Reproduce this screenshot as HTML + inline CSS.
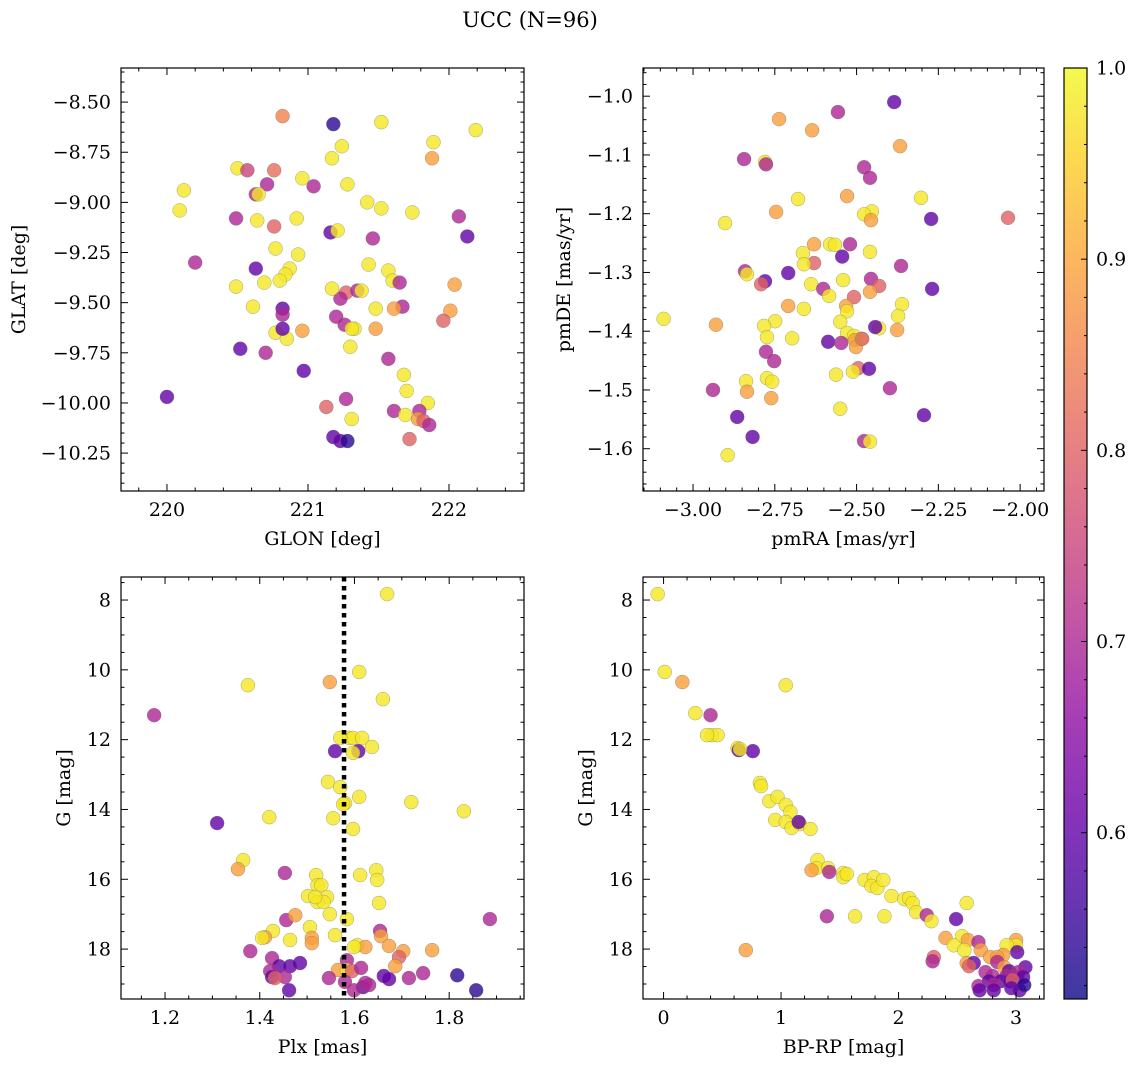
<!DOCTYPE html>
<html><head><meta charset="utf-8"><style>
html,body{margin:0;padding:0;background:#fff;}
svg{display:block;font-family:"DejaVu Serif","Liberation Serif",serif;}
</style></head><body>
<svg id="chart" width="1136" height="1067" viewBox="0 0 1136 1067">
<defs>
<linearGradient id="plasma" x1="0" y1="1" x2="0" y2="0">
<stop offset="0" stop-color="#0d0887"/><stop offset="0.1" stop-color="#41049d"/><stop offset="0.2" stop-color="#6a00a8"/><stop offset="0.3" stop-color="#8f0da4"/><stop offset="0.4" stop-color="#b12a90"/><stop offset="0.5" stop-color="#cc4778"/><stop offset="0.6" stop-color="#e16462"/><stop offset="0.7" stop-color="#f2844b"/><stop offset="0.8" stop-color="#fca636"/><stop offset="0.9" stop-color="#fcce25"/><stop offset="1" stop-color="#f0f921"/>
</linearGradient>
</defs>
<text x="530" y="27" text-anchor="middle" font-size="21">UCC (N=96)</text>
</svg>
<script>
// colour scale
const P_MIN = 0.513, P_MAX = 1.0;
const Y=0.98,O=0.89,Pk=0.80,M=0.70,V=0.60,B=0.54;
// Panel 1: GLON / GLAT
const glon = [220.82,221.18,221.52,222.19,221.89,221.88,221.24,220.50,220.57,220.76,221.17,220.96,220.12,220.71,221.04,221.28,220.09,220.63,220.65,221.42,221.52,221.74,222.07,220.49,220.92,220.64,220.76,221.16,221.21,221.46,222.13,220.77,220.93,220.20,220.63,220.87,220.84,221.43,221.57,221.60,220.80,220.69,221.65,222.04,220.49,221.27,221.23,221.35,221.17,221.38,220.61,221.67,221.61,221.48,222.01,221.96,220.82,221.20,221.26,220.82,221.33,221.31,221.48,220.77,220.96,220.85,220.52,220.82,221.30,220.70,221.57,220.97,221.68,221.70,220.00,221.27,221.13,221.85,221.61,221.31,221.79,221.69,221.78,221.82,221.86,221.18,221.23,221.28,221.72];
const glat = [-8.57,-8.61,-8.60,-8.64,-8.70,-8.78,-8.72,-8.83,-8.84,-8.84,-8.78,-8.88,-8.94,-8.91,-8.92,-8.91,-9.04,-8.96,-8.96,-9.00,-9.03,-9.05,-9.07,-9.08,-9.08,-9.09,-9.12,-9.15,-9.14,-9.18,-9.17,-9.23,-9.26,-9.30,-9.33,-9.33,-9.36,-9.31,-9.34,-9.39,-9.39,-9.40,-9.40,-9.41,-9.42,-9.45,-9.48,-9.44,-9.43,-9.44,-9.52,-9.52,-9.53,-9.53,-9.54,-9.59,-9.53,-9.57,-9.61,-9.56,-9.63,-9.63,-9.63,-9.65,-9.64,-9.68,-9.73,-9.63,-9.72,-9.75,-9.78,-9.84,-9.86,-9.94,-9.97,-9.98,-10.02,-10.00,-10.04,-10.08,-10.04,-10.06,-10.08,-10.09,-10.11,-10.17,-10.19,-10.19,-10.18];
const prob1 = [0.85,B,Y,Y,Y,O,Y,Y,0.75,0.82,Y,Y,Y,M,M,Y,Y,M,Y,Y,Y,Y,M,M,Y,Y,Pk,V,Y,M,V,Y,Y,M,V,Y,Y,Y,Y,Y,Y,Y,M,O,Y,Pk,M,M,Y,Y,Y,M,O,Y,O,Pk,V,M,M,M,Y,Y,O,Y,O,Y,V,V,Y,M,M,V,Y,Y,V,M,Pk,Y,M,Y,M,Y,O,Pk,M,V,V,B,Pk];
// Panel 2: pmRA / pmDE
const pmra = [-2.385,-2.557,-2.737,-2.636,-2.367,-2.844,-2.780,-2.777,-2.477,-2.459,-2.529,-2.303,-2.453,-2.477,-2.746,-2.679,-2.272,-2.037,-2.902,-2.456,-2.581,-2.566,-2.520,-2.630,-2.664,-2.459,-2.544,-2.630,-2.661,-2.364,-2.841,-2.835,-2.709,-2.541,-2.456,-2.780,-2.431,-2.639,-2.269,-2.602,-2.459,-2.792,-2.584,-2.508,-2.361,-2.532,-2.709,-2.661,-2.529,-3.090,-2.930,-2.749,-2.550,-2.373,-2.431,-2.443,-2.376,-2.783,-2.529,-2.697,-2.774,-2.508,-2.505,-2.502,-2.587,-2.547,-2.486,-2.777,-2.752,-2.483,-2.495,-2.462,-2.511,-2.563,-2.774,-2.758,-2.838,-2.939,-2.398,-2.835,-2.761,-2.550,-2.865,-2.294,-2.477,-2.459,-2.818,-2.894];
const pmde = [-1.010,-1.027,-1.039,-1.058,-1.085,-1.107,-1.112,-1.116,-1.121,-1.139,-1.170,-1.173,-1.196,-1.201,-1.197,-1.175,-1.209,-1.207,-1.216,-1.211,-1.252,-1.253,-1.252,-1.252,-1.267,-1.265,-1.273,-1.284,-1.286,-1.289,-1.298,-1.303,-1.301,-1.313,-1.311,-1.315,-1.323,-1.320,-1.328,-1.328,-1.333,-1.320,-1.340,-1.342,-1.354,-1.357,-1.357,-1.362,-1.366,-1.379,-1.389,-1.383,-1.384,-1.374,-1.395,-1.393,-1.398,-1.391,-1.403,-1.412,-1.410,-1.408,-1.415,-1.427,-1.418,-1.420,-1.413,-1.435,-1.451,-1.413,-1.463,-1.464,-1.469,-1.474,-1.480,-1.486,-1.485,-1.500,-1.497,-1.503,-1.514,-1.532,-1.546,-1.543,-1.587,-1.588,-1.580,-1.611];
const prob2 = [V,M,O,O,O,M,Y,M,M,M,O,Y,Y,Y,O,Y,V,Pk,Y,O,Y,Y,M,O,Y,Y,V,Pk,Y,M,M,Y,V,Y,M,V,Pk,Y,V,M,O,Pk,Y,Pk,Y,O,O,Y,Y,Y,O,Y,Y,Y,Y,V,O,Y,Y,Y,Y,Y,O,O,V,M,Y,M,M,Pk,Pk,V,Y,Y,Y,Y,Y,M,M,O,O,Y,V,V,M,Y,V,Y];
// Panel 3: Plx / G
const plx = [1.669,1.610,1.548,1.375,1.660,1.177,1.589,1.597,1.616,1.570,1.559,1.608,1.637,1.597,1.544,1.570,1.610,1.580,1.576,1.720,1.310,1.420,1.555,1.831,1.597,1.365,1.354,1.453,1.519,1.646,1.612,1.648,1.522,1.530,1.502,1.542,1.522,1.535,1.517,1.652,1.886,1.456,1.584,1.475,1.548,1.506,1.654,1.428,1.411,1.559,1.656,1.510,1.464,1.405,1.510,1.606,1.623,1.673,1.703,1.764,1.380,1.599,1.694,1.426,1.584,1.485,1.441,1.422,1.565,1.584,1.595,1.614,1.464,1.686,1.745,1.426,1.453,1.432,1.546,1.662,1.673,1.817,1.715,1.580,1.618,1.631,1.599,1.462,1.857,1.623];
const gmag3 = [7.83,10.06,10.35,10.44,10.84,11.30,11.95,11.95,11.95,11.95,12.33,12.33,12.21,12.38,13.21,13.36,13.64,13.82,13.85,13.79,14.39,14.22,14.25,14.05,14.56,15.45,15.71,15.82,15.88,15.74,15.88,16.02,16.17,16.17,16.48,16.51,16.65,16.65,16.51,16.68,17.14,17.17,17.14,17.03,17.00,17.37,17.48,17.48,17.66,17.60,17.63,17.68,17.74,17.68,17.83,17.89,17.94,17.91,18.06,18.03,18.06,17.94,18.23,18.26,18.32,18.40,18.49,18.63,18.60,18.60,18.63,18.54,18.49,18.49,18.69,18.80,18.80,18.83,18.83,18.77,18.86,18.75,18.83,18.94,19.09,19.03,19.18,19.18,19.18,18.97];
const prob3 = [Y,Y,O,Y,Y,M,Y,Y,Y,Y,V,V,Y,Y,Y,Y,Y,Y,Y,Y,V,Y,Y,Y,Y,Y,O,M,Y,Y,Y,Y,Y,Y,Y,Y,Y,Y,Y,Y,M,M,Y,O,Y,Y,M,Y,O,Y,O,O,Y,Y,O,Y,O,O,O,O,M,Y,Pk,M,M,V,V,M,O,Y,Pk,M,V,O,M,V,M,Pk,M,V,V,B,M,M,V,M,M,V,B,M];
// Panel 4: BP-RP / G
const bprp = [-0.05,0.01,0.16,1.04,0.27,0.40,0.41,0.46,0.37,0.63,0.64,0.76,0.65,0.82,0.83,0.90,0.97,1.04,1.08,0.95,1.04,1.16,1.09,1.15,1.25,1.31,1.30,1.40,1.26,1.41,1.53,1.53,1.56,1.71,1.79,1.77,1.82,1.87,1.94,2.05,2.09,2.12,2.58,1.63,1.39,1.88,2.15,2.24,2.28,2.49,2.40,2.54,2.59,2.47,2.68,2.70,2.56,3.00,3.00,2.92,3.01,2.89,2.78,2.84,2.30,2.29,2.58,2.64,2.84,2.60,2.90,3.08,2.74,2.94,3.02,2.80,2.92,3.01,3.06,2.77,2.87,2.95,2.97,2.68,2.81,2.69,2.81,2.96,3.03,3.07,0.70];
const gmag4 = [7.83,10.06,10.35,10.44,11.24,11.30,11.87,11.87,11.87,12.24,12.30,12.33,12.27,13.24,13.33,13.76,13.64,13.87,14.07,14.30,14.36,14.42,14.53,14.36,14.56,15.45,15.68,15.68,15.74,15.79,15.82,15.94,15.85,16.02,15.94,16.19,16.25,16.02,16.48,16.57,16.54,16.68,16.68,17.06,17.06,17.06,16.94,17.03,17.20,17.14,17.68,17.63,17.74,17.89,17.80,18.03,18.03,17.74,17.89,17.89,18.09,18.17,18.23,18.23,18.23,18.35,18.40,18.40,18.37,18.49,18.52,18.52,18.66,18.63,18.66,18.77,18.77,18.80,18.80,18.92,18.92,18.92,18.89,19.06,19.03,19.18,19.18,19.12,19.18,19.03,18.03];
const prob4 = [Y,Y,O,Y,Y,M,Y,Y,Y,Y,V,V,Y,Y,Y,Y,Y,Y,Y,Y,Y,Y,Y,V,Y,Y,Y,Y,O,M,Y,Y,Y,Y,Y,Y,Y,Y,Y,Y,Y,Y,Y,Y,M,Y,Y,M,Y,V,O,Y,O,Y,M,O,Y,O,Y,Y,V,O,O,O,Pk,M,O,V,M,Pk,O,V,M,V,M,M,M,M,V,V,V,V,Pk,M,M,V,V,V,V,B,O];
// Colorbar ticks
const cbTicks = [0.6,0.7,0.8,0.9,1.0];
const plxLine = 1.578;

const FS = 19;
const NS = "http://www.w3.org/2000/svg";
const svg = document.getElementById('chart');
const stops = [[0,13,8,135],[0.1,65,4,157],[0.2,106,0,168],[0.3,143,13,164],[0.4,177,42,144],[0.5,204,71,120],[0.6,225,100,98],[0.7,242,132,75],[0.8,252,166,54],[0.9,252,206,37],[1,240,249,33]];
function plasma(v){
  let t = Math.max(0,Math.min(1,(v-P_MIN)/(P_MAX-P_MIN)));
  for(let i=1;i<stops.length;i++){ if(t<=stops[i][0]){ const a=stops[i-1],b=stops[i],f=(t-a[0])/(b[0]-a[0]);
    return `rgb(${Math.round(a[1]+f*(b[1]-a[1]))},${Math.round(a[2]+f*(b[2]-a[2]))},${Math.round(a[3]+f*(b[3]-a[3]))})`; } }
  return 'rgb(240,249,33)';
}
function mk(tag, attrs, parent){ const e=document.createElementNS(NS,tag); for(const k in attrs) e.setAttribute(k,attrs[k]); (parent||svg).appendChild(e); return e; }
function fmt(v,d){ return v.toFixed(d).replace('-','\u2212'); }

function panel(cfg){
  const g = mk('g',{});
  
  
  const {x0,x1,y0,y1,xmin,xmax,ymin,ymax} = cfg;
  const sx = v => x0 + (v-xmin)/(xmax-xmin)*(x1-x0);
  const sy = v => cfg.invert ? y0 + (v-ymin)/(ymax-ymin)*(y1-y0) : y1 - (v-ymin)/(ymax-ymin)*(y1-y0);
  const pg = mk('g',{},g);
  
  
  for(let i=0;i<cfg.xs.length;i++){
    const c = mk('circle',{cx:sx(cfg.xs[i]),cy:sy(cfg.ys[i]),r:7,fill:plasma(cfg.cs[i]),'fill-opacity':0.8,stroke:'#666','stroke-width':0.4,'stroke-opacity':0.7},pg);
    
    
  }
  if(cfg.vline!==undefined){
    const l = mk('line',{x1:sx(cfg.vline),x2:sx(cfg.vline),y1:y0,y2:y1,stroke:'#000','stroke-width':4.5,'stroke-dasharray':'4.5,4.5'},g);
    
    
  }
  const fr = mk('rect',{x:x0,y:y0,width:x1-x0,height:y1-y0,fill:'none',stroke:'#000','stroke-width':1.2},g);
  
  
  const eps=1e-9;
  const xstart = Math.ceil(xmin/cfg.xminor-eps)*cfg.xminor;
  for(let v=xstart; v<=xmax+eps; v+=cfg.xminor){
    const vv = Math.round(v/cfg.xminor)*cfg.xminor;
    const major = Math.abs(vv/cfg.xmajor - Math.round(vv/cfg.xmajor))<1e-6;
    const L = major?7:3.5, X=sx(vv);
    mk('line',{x1:X,x2:X,y1:y1,y2:y1-L,stroke:'#000','stroke-width':1},g);
    mk('line',{x1:X,x2:X,y1:y0,y2:y0+L,stroke:'#000','stroke-width':1},g);
    if(major){ const t=mk('text',{x:X,y:y1+25,'text-anchor':'middle','font-size':FS},g); t.textContent=fmt(vv,cfg.xdec);
        }
  }
  const ystart = Math.ceil(ymin/cfg.yminor-eps)*cfg.yminor;
  for(let v=ystart; v<=ymax+eps; v+=cfg.yminor){
    const vv = Math.round(v/cfg.yminor)*cfg.yminor;
    const major = Math.abs(vv/cfg.ymajor - Math.round(vv/cfg.ymajor))<1e-6;
    const L = major?7:3.5, Yp=sy(vv);
    mk('line',{x1:x0,x2:x0+L,y1:Yp,y2:Yp,stroke:'#000','stroke-width':1},g);
    mk('line',{x1:x1,x2:x1-L,y1:Yp,y2:Yp,stroke:'#000','stroke-width':1},g);
    if(major){ const t=mk('text',{x:x0-10,y:Yp+6.5,'text-anchor':'end','font-size':FS},g); t.textContent=fmt(vv,cfg.ydec);
        }
  }
  const xt = mk('text',{x:(x0+x1)/2,y:y1+54,'text-anchor':'middle','font-size':FS},g); xt.textContent=cfg.xlabel;
   
  const yt = mk('text',{x:0,y:0,'text-anchor':'middle','font-size':FS,transform:`translate(${cfg.ylx},${(y0+y1)/2}) rotate(-90)`},g); yt.textContent=cfg.ylabel;
   
}

panel({name:'glon-glat-panel',x0:121,x1:524,y0:68,y1:491,xmin:219.674,xmax:222.532,ymin:-10.439,ymax:-8.330,
  xs:glon,ys:glat,cs:prob1,xmajor:1,xminor:0.2,ymajor:0.25,yminor:0.05,xdec:0,ydec:2,xlabel:'GLON [deg]',ylabel:'GLAT [deg]',ylx:25});
panel({name:'pm-panel',x0:643,x1:1044,y0:68,y1:491,xmin:-3.153,xmax:-1.927,ymin:-1.672,ymax:-0.952,
  xs:pmra,ys:pmde,cs:prob2,xmajor:0.25,xminor:0.05,ymajor:0.1,yminor:0.02,xdec:2,ydec:1,xlabel:'pmRA [mas/yr]',ylabel:'pmDE [mas/yr]',ylx:570});
panel({name:'plx-g-panel',x0:121,x1:524,y0:577,y1:999,xmin:1.107,xmax:1.958,ymin:7.34,ymax:19.43,invert:true,
  xs:plx,ys:gmag3,cs:prob3,xmajor:0.2,xminor:0.05,ymajor:2,yminor:0.5,xdec:1,ydec:0,xlabel:'Plx [mas]',ylabel:'G [mag]',ylx:70,vline:plxLine});
panel({name:'cmd-panel',x0:643,x1:1044,y0:577,y1:999,xmin:-0.175,xmax:3.238,ymin:7.34,ymax:19.43,invert:true,
  xs:bprp,ys:gmag4,cs:prob4,xmajor:1,xminor:0.2,ymajor:2,yminor:0.5,xdec:0,ydec:0,xlabel:'BP-RP [mag]',ylabel:'G [mag]',ylx:592});

// colorbar
const cb = mk('g',{});


const cbx0=1064,cbx1=1087,cby0=68,cby1=999;
mk('rect',{x:cbx0,y:cby0,width:cbx1-cbx0,height:cby1-cby0,fill:'url(#plasma)','fill-opacity':0.8,stroke:'none'},cb);
mk('rect',{x:cbx0,y:cby0,width:cbx1-cbx0,height:cby1-cby0,fill:'none',stroke:'#000','stroke-width':1.2},cb);
const cy = v => cby1 - (v-P_MIN)/(P_MAX-P_MIN)*(cby1-cby0);
for(let k=Math.ceil(P_MIN/0.02);k*0.02<=P_MAX+1e-9;k++){
  const v=k*0.02, Yp=cy(v), major = k%5===0;
  mk('line',{x1:cbx1,x2:cbx1-(major?6:3),y1:Yp,y2:Yp,stroke:'#000','stroke-width':1},cb);
}
for(let i=0;i<cbTicks.length;i++){
  const t=mk('text',{x:cbx1+9,y:cy(cbTicks[i])+6.5,'font-size':FS},cb); t.textContent=cbTicks[i].toFixed(1);
  
  
}
</script>
</body></html>
